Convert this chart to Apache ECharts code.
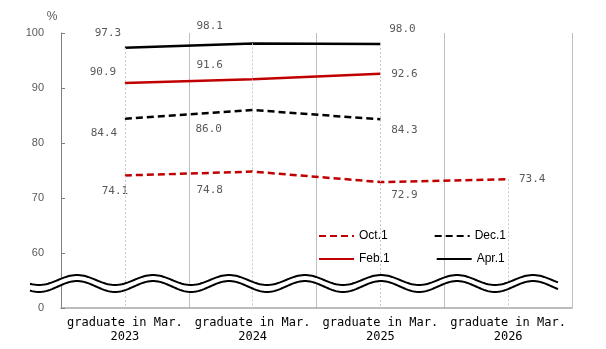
<!DOCTYPE html>
<html>
<head>
<meta charset="utf-8">
<script src="https://cdn.jsdelivr.net/npm/echarts@6/dist/echarts.min.js"></script>
<style>
  html, body { margin: 0; padding: 0; background: #fff; }
  #main { width: 606px; height: 349px; }
</style>
</head>
<body>
<div id="main"></div>
<script>
// categories and values
var categories = ['graduate in Mar.\n2023', 'graduate in Mar.\n2024', 'graduate in Mar.\n2025', 'graduate in Mar.\n2026'];
var oct1 = [74.1, 74.8, 72.9, 73.4];
var dec1 = [84.4, 86.0, 84.3, null];
var feb1 = [90.9, 91.6, 92.6, null];
var apr1 = [97.3, 98.1, 98.0, null];
// axis is broken: bottom tick (50) is shown as 0
var yLabels = ['0', '60', '70', '80', '90', '100'];

// label offsets (px) for each point
var octOff = [[-10, 16], [-43, 19], [24, 13], [24, 0]];
var decOff = [[-21, 14], [-44, 19], [24, 11]];
var febOff = [[-22, -11], [-43, -14], [24, 0]];
var aprOff = [[-17, -15], [-43, -17], [22, -15]];

var RED = '#C00000';
var MONO = 'DejaVu Sans Mono';

function withLabels(vals, offs) {
  var out = [];
  for (var i = 0; i < vals.length; i++) {
    if (vals[i] == null) { out.push('-'); continue; }
    out.push({ value: vals[i], label: { offset: offs[i] } });
  }
  return out;
}

// drop lines from the highest point down to the axis
var dropLines = [];
for (var i = 0; i < categories.length; i++) {
  var hi = Math.max.apply(null, [oct1[i], dec1[i], feb1[i], apr1[i]].filter(function (v) { return v != null; }));
  dropLines.push([{ xAxis: i, yAxis: hi }, { xAxis: i, yAxis: 50 }]);
}

function lineSeries(name, vals, offs, color, dashed) {
  return {
    name: name, type: 'line', data: withLabels(vals, offs),
    symbol: 'circle', symbolSize: 4, z: 3,
    lineStyle: { color: color, width: 2.5, type: dashed ? [7, 4] : 'solid', cap: 'butt' },
    itemStyle: { color: 'rgba(0,0,0,0)' },
    label: { show: true, position: 'inside', color: '#595959', fontFamily: MONO, fontSize: 11,
      formatter: function (p) { return p.value.toFixed(1); } }
  };
}

// wave-shaped break symbol
function wave(yc, amp) {
  var pts = [];
  for (var x = 30; x <= 558; x += 2) {
    pts.push([x, yc - amp * Math.cos(2 * Math.PI * (x - 77) / 76)]);
  }
  return pts;
}
var up = wave(280, 5), low = wave(286.5, 5.5);
var band = up.concat(low.slice().reverse());

var series = [
  lineSeries('Oct.1', oct1, octOff, RED, true),
  lineSeries('Dec.1', dec1, decOff, '#000', true),
  lineSeries('Feb.1', feb1, febOff, RED, false),
  lineSeries('Apr.1', apr1, aprOff, '#000', false)
];
series[0].markLine = {
  silent: true, symbol: ['none', 'none'], label: { show: false },
  lineStyle: { color: '#C8C8C8', type: [2, 2], width: 1 }, data: dropLines
};

var legendText = { fontFamily: 'Liberation Sans', fontSize: 12, color: '#000' };

var chart = echarts.init(document.getElementById('main'));
chart.setOption({
  animation: false,
  grid: { left: 61, right: 34, top: 33, bottom: 41 },
  legend: [
    { data: ['Oct.1', 'Dec.1'], left: 313, top: 225, itemWidth: 35, itemHeight: 10, itemGap: 46, textStyle: legendText },
    { data: ['Feb.1', 'Apr.1'], left: 313, top: 248, itemWidth: 35, itemHeight: 10, itemGap: 46, textStyle: legendText }
  ],
  xAxis: {
    type: 'category', data: categories, boundaryGap: true,
    axisLine: { lineStyle: { color: '#A6A6A6', width: 1.5 } },
    axisTick: { show: false },
    axisLabel: { interval: 0, color: '#000', fontFamily: MONO, fontSize: 12, lineHeight: 14, margin: 8 },
    splitLine: { show: true, lineStyle: { color: '#BFBFBF', width: 1 } }
  },
  yAxis: {
    type: 'value', min: 50, max: 100, interval: 10,
    name: '%', nameLocation: 'end', nameGap: 10,
    nameTextStyle: { color: '#595959', fontFamily: 'Liberation Sans', fontSize: 12, padding: [0, 18, 0, 0] },
    axisLine: { show: true, lineStyle: { color: '#7F7F7F', width: 1 } },
    axisTick: { show: true, inside: true, length: 4, lineStyle: { color: '#7F7F7F' } },
    axisLabel: { color: '#595959', fontFamily: 'Liberation Sans', fontSize: 11, margin: 17,
      formatter: function (v) { return yLabels[(v - 50) / 10]; } },
    splitLine: { show: false }
  },
  series: series,
  graphic: [
    { type: 'polygon', z: 100, silent: true, shape: { points: band }, style: { fill: '#fff' } },
    { type: 'polyline', z: 101, silent: true, shape: { points: up }, style: { stroke: '#000', lineWidth: 2, fill: null } },
    { type: 'polyline', z: 101, silent: true, shape: { points: low }, style: { stroke: '#000', lineWidth: 2, fill: null } }
  ]
});
</script>
</body>
</html>
